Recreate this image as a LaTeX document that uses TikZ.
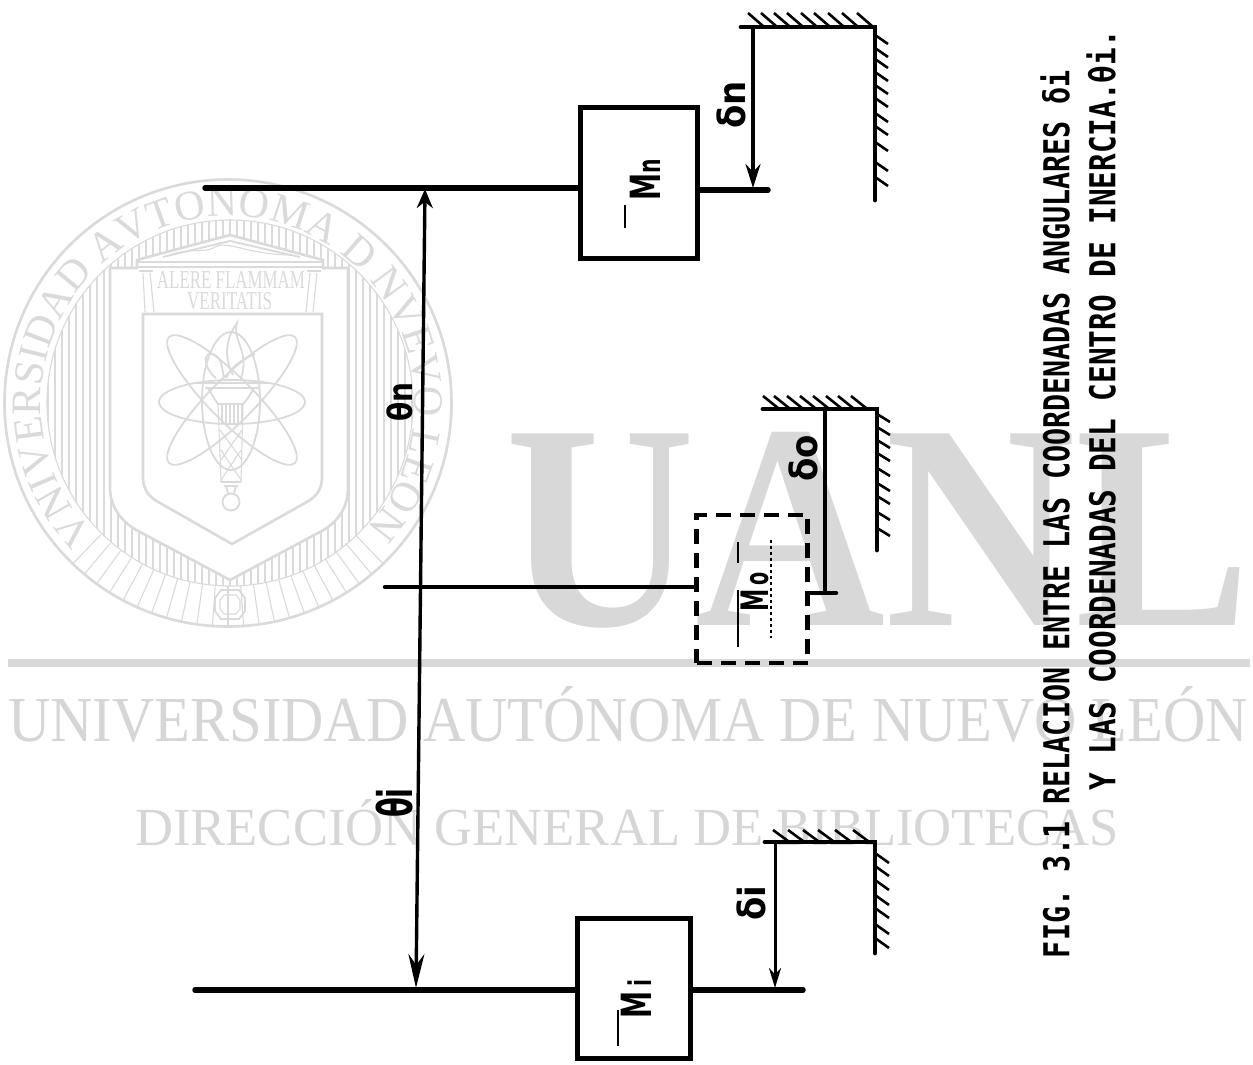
\documentclass[tikz,border=0pt]{standalone}
\usepackage{fontspec}
\usepackage{graphicx}
\setmainfont{Liberation Serif}
\newfontfamily\handfont{DejaVu Sans Mono}
\newfontfamily\labfont{DejaVu Sans}
\usetikzlibrary{arrows.meta,decorations.text}
\definecolor{wmbig}{HTML}{D8D8D8}
\definecolor{wmtext}{HTML}{D6D6D6}
\definecolor{wmseal}{HTML}{DADADA}
\tikzset{
  arm/.style={line width=5.5pt,line cap=round},
  midarm/.style={line width=4.5pt,line cap=round},
  wallline/.style={line width=4.8pt,line cap=round},
  hatch/.style={line width=2.6pt},
  mass/.style={draw,line width=5pt,rectangle,minimum width=#1,inner sep=0pt},
  dimline/.style={line width=3.4pt},
  seal/.style={draw=wmseal,line width=2.6pt},
  sealmid/.style={draw=wmseal,line width=1.8pt},
  sealthin/.style={draw=wmseal,line width=1.1pt},
  symb/.style={rotate=90,inner sep=0pt,font=\labfont\bfseries},
  capline/.style={rotate=90,inner sep=0pt,anchor=center}
}
\begin{document}
\begin{tikzpicture}[x=1pt,y=-1pt]
\useasboundingbox (0,0) rectangle (1253,1065);
\fill[white] (0,0) rectangle (1253,1065);
% ---------- watermark ----------
\node[anchor=south west,inner sep=0pt,text=wmbig] (wmuanl) at (505,628) {\resizebox{745pt}{193pt}{\bfseries UANL}};
\fill[wmbig] (8,659) rectangle (1250,667);
\node[anchor=south west,inner sep=0pt,text=wmtext] (wmuni) at (8,743) {\resizebox{1240pt}{55pt}{UNIVERSIDAD AUTÓNOMA DE NUEVO LEÓN}};
\node[anchor=south west,inner sep=0pt,text=wmtext] (wmdir) at (135,846) {\resizebox{983pt}{46pt}{DIRECCIÓN GENERAL DE BIBLIOTECAS}};
% seal: rings, ribs and lettering
\draw[seal] (228,403) circle[radius=223.5pt];
\draw[sealthin] (230,403) circle[radius=183pt];
\begin{scope}
  \clip (230,403) circle[radius=183pt];
  \foreach \vx in {48,55,...,412} \draw[sealthin] (\vx,215) -- (\vx,590);
\end{scope}
\begin{scope}[shift={(228,403)},x=1pt,y=1pt]
  \path[decorate,decoration={text along path,text align={fit to path},
    text={|\fontsize{42}{42}\selectfont\color{wmseal}|VNIVERSIDAD AVTONOMA D NVEVO LEON}}]
    (224:187pt) arc[start angle=224,end angle=-42,radius=187pt];
  \foreach \ang in {226,230,...,314} \draw[sealthin] (\ang:183pt) -- (\ang:223pt);
\end{scope}
% temple and shields
\filldraw[seal,fill=white] (137,260) -- (230,235) -- (323,260) -- (323,268) -- (348,268) -- (348,488) .. controls (348,510) and (335,525) .. (318,533) -- (230,580) -- (142,533) .. controls (125,525) and (110,510) .. (110,488) -- (110,268) -- (137,268) -- cycle;
\draw[draw=white,line width=4pt] (140,268) -- (320,268);
\draw[sealmid] (137,262) -- (323,262) (137,267) -- (323,267);
\draw[sealmid] (163,257) -- (230,241) -- (300,257);
\draw[sealthin] (170,255) .. controls (190,247) and (205,254) .. (215,247) .. controls (228,240) and (245,254) .. (290,255);
\draw[sealmid] (139,271) -- (153,271) (307,271) -- (321,271);
\draw[sealthin] (143,273) -- (145,312) (150,273) -- (154,312) (310,273) -- (306,312) (317,273) -- (313,312);
\filldraw[seal,fill=white] (143,314) -- (322,314) -- (322,478) .. controls (322,490) and (315,498) .. (305,503) -- (232,544) -- (160,503) .. controls (150,498) and (143,490) .. (143,478) -- cycle;
% atom
\draw[sealmid] (232,402) ellipse[x radius=73pt,y radius=22pt];
\draw[sealmid] (231,401) ellipse[x radius=29pt,y radius=69pt];
\draw[sealmid,rotate around={45:(232,400)}] (232,400) ellipse[x radius=89pt,y radius=22pt];
\draw[sealmid,rotate around={-45:(232,400)}] (232,400) ellipse[x radius=89pt,y radius=22pt];
% torch
\draw[sealmid] (233,375) .. controls (222,355) and (228,335) .. (237,323) .. controls (232,340) and (250,352) .. (241,378);
\draw[sealmid] (216,378) .. controls (203,368) and (203,352) .. (212,354) .. controls (222,356) and (222,368) .. (224,378);
\draw[sealmid] (226,378) .. controls (232,365) and (245,358) .. (255,354);
\draw[sealmid] (197,383) -- (267,383) (205,388) -- (260,388);
\draw[sealmid] (208,388) .. controls (212,395) and (215,400) .. (218,404) -- (243,404) .. controls (247,400) and (250,395) .. (254,388);
\draw[sealthin] (218,404) -- (221,482) (243,404) -- (241,482);
\foreach \vx in {222,226,...,242} \draw[sealthin] (\vx,404) -- (\vx,424);
\draw[sealthin] (220,430) -- (242,460) (242,430) -- (221,460) (221,450) -- (241,480) (241,450) -- (221,480);
\draw[sealmid] (221,482) -- (241,482) (224,486) -- (238,486) (226,486) -- (228,493) (236,486) -- (234,493);
\draw[sealmid] (231,502) circle[radius=8.5pt];
% badge
\draw[sealmid] (215,598) -- (221,590) -- (239,590) -- (245,598) -- (245,611) -- (239,619) -- (221,619) -- (215,611) -- cycle;
\draw[sealthin] (220,600) -- (224,595) -- (236,595) -- (240,600) -- (240,609) -- (236,614) -- (224,614) -- (220,609) -- cycle;
\node[inner sep=0pt,text=wmseal] (motto1) at (231,280) {\resizebox{148pt}{17pt}{ALERE FLAMMAM}};
\node[inner sep=0pt,text=wmseal] (motto2) at (229.5,301.5) {\resizebox{85pt}{17pt}{VERITATIS}};
% ---------- masses ----------
\node[mass=117pt,minimum height=151pt] (mn) at (638.5,182.5) {};
\node[mass=113pt,minimum height=140pt] (mi) at (633.5,988) {};
\node[draw,line width=4.4pt,dash pattern=on 15pt off 9pt,rectangle,minimum width=111pt,minimum height=148pt,inner sep=0pt] (mo) at (752,589) {};
% ---------- end coordinates ----------
\coordinate (an) at (205,188); \coordinate (anr) at (768,190);
\coordinate (ao) at (385,587); \coordinate (aor) at (836,593);
\coordinate (ai) at (195,990); \coordinate (air) at (803,990);
% arms
\draw[arm] (an) -- (mn.west |- an);
\draw[arm] (mn.east |- anr) -- (anr);
\draw[midarm] (ao) -- (mo.west |- ao);
\draw[midarm] (mo.east |- aor) -- (aor);
\draw[arm] (ai) -- (mi.west |- ai);
\draw[arm] (mi.east |- air) -- (air);
% ---------- walls ----------
\coordinate (wna) at (741,27); \coordinate (wnb) at (875,27); \coordinate (wnc) at (875,200);
\coordinate (woa) at (763,409); \coordinate (wob) at (877,409); \coordinate (woc) at (877,550);
\coordinate (wia) at (765,842); \coordinate (wib) at (875,842); \coordinate (wic) at (875,953);
\draw[wallline] (wna) -- (wnb) -- (wnc);
\draw[wallline] (woa) -- (wob) -- (woc);
\draw[wallline] (wia) -- (wib) -- (wic);
\foreach \h in {763,776,789,802,816,829,843,857,872} \draw[hatch] (\h,26) -- ++(-15,-13);
\foreach \h in {35,48,59,72,85,98,113,126,142,162,177} \draw[hatch] (875,\h) -- ++(13,9);
\foreach \h in {778,789,802,815,828,841,853,866} \draw[hatch] (\h,408) -- ++(-15,-12);
\foreach \h in {414,427,440,453,468,483,496,512,528} \draw[hatch] (877,\h) -- ++(13,8);
\foreach \h in {788,803,818,833,850,868} \draw[hatch] (\h,841) -- ++(-15,-11);
\foreach \h in {853,866,880,895,908,924,938} \draw[hatch] (875,\h) -- ++(14,10);
% ---------- displacement arrows ----------
\coordinate (dnt) at (753,27); \coordinate (dnb) at (753,188);
\coordinate (dot) at (825,409); \coordinate (dob) at (825,591);
\coordinate (dit) at (775,842); \coordinate (dib) at (775,988);
\draw[line width=3.4pt,-{Stealth[length=24pt,width=15pt]}] (dnt) -- (dnb);
\draw[line width=4.4pt] (dot) -- (dob);
\draw[line width=3pt,-{Stealth[length=20pt,width=12pt]}] (dit) -- (dib);
\coordinate (tht) at (425,189); \coordinate (thb) at (416,988);
\draw[dimline,{Stealth[length=19pt,width=16pt]}-{Stealth[length=34pt,width=16pt]}] (tht) -- (thb);
% ---------- symbols ----------
\node[symb] (lbn) at (731,105) {\scalebox{1.0}[1.1]{\fontsize{34}{34}\selectfont δn}};
\node[symb] (lbo) at (803,458) {\scalebox{1.0}[1.1]{\fontsize{34}{34}\selectfont δo}};
\node[symb] (lbi) at (751,903) {\scalebox{1.0}[1.1]{\fontsize{34}{34}\selectfont δi}};
\node[symb] (thn) at (400,402) {\scalebox{1.0}[1.2]{\fontsize{28}{28}\selectfont θn}};
\node[symb] (thi) at (394,803) {\scalebox{0.85}[1.4]{\fontsize{34}{34}\selectfont θi}};
\node[symb] (lmn) at (645,180) {\scalebox{0.85}[1.3]{\fontsize{32}{32}\selectfont M\fontsize{24}{24}\selectfont n}};
\node[symb] (lmi) at (636,999) {\scalebox{0.85}[1.3]{\fontsize{32}{32}\selectfont M\,\fontsize{24}{24}\selectfont i}};
\node[symb] (lmo) at (755,592) {\scalebox{0.8}[1.35]{\fontsize{28}{28}\selectfont M\,\fontsize{24}{24}\selectfont o}};
% bars over the mass symbols
\coordinate (bna) at (625,205); \coordinate (bnb) at (625,228);
\coordinate (bia) at (618,1010); \coordinate (bib) at (618,1046);
\coordinate (boa) at (738,542); \coordinate (bob) at (738,647);
\coordinate (boc) at (771,540); \coordinate (bod) at (771,638);
\draw[line width=1.6pt] (bna) -- (bnb);
\draw[line width=2pt] (bia) -- (bib);
\draw[line width=2pt,dash pattern=on 21pt off 27pt on 57pt] (boa) -- (bob);
\draw[line width=2pt,dash pattern=on 3pt off 3pt] (boc) -- (bod);
% ---------- caption ----------
\node[capline] (cap1) at (1055,514) {\handfont\bfseries\resizebox{888pt}{29pt}{FIG. 3.1 RELACION ENTRE LAS COORDENADAS ANGULARES δi}};
\node[capline] (cap2) at (1101,410) {\handfont\bfseries\resizebox{760pt}{29pt}{Y LAS COORDENADAS DEL CENTRO DE INERCIA.θi.}};
\end{tikzpicture}
\end{document}
